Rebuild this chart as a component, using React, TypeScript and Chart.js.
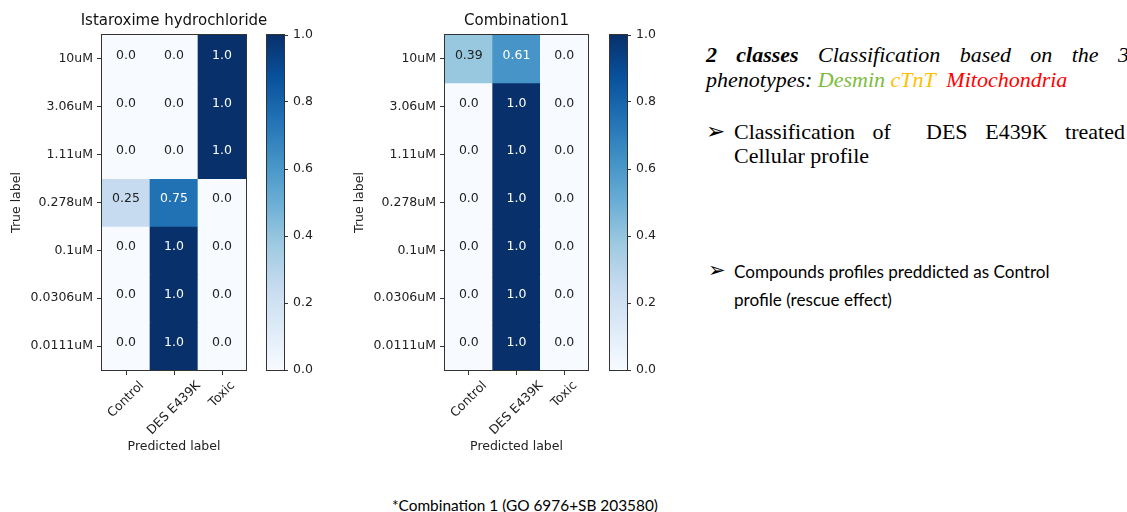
import React, { useEffect, useRef } from 'react';
import { Chart, registerables } from 'chart.js';

Chart.register(...registerables);

// ---------- data ----------
const trueLabels = ['10uM', '3.06uM', '1.11uM', '0.278uM', '0.1uM', '0.0306uM', '0.0111uM'];
const predictedLabels = ['Control', 'DES E439K', 'Toxic'];

const istaroximeTitle = 'Istaroxime hydrochloride';
const istaroximeValues = [
  [0.0, 0.0, 1.0],
  [0.0, 0.0, 1.0],
  [0.0, 0.0, 1.0],
  [0.25, 0.75, 0.0],
  [0.0, 1.0, 0.0],
  [0.0, 1.0, 0.0],
  [0.0, 1.0, 0.0],
];

const combinationTitle = 'Combination1';
const combinationValues = [
  [0.39, 0.61, 0.0],
  [0.0, 1.0, 0.0],
  [0.0, 1.0, 0.0],
  [0.0, 1.0, 0.0],
  [0.0, 1.0, 0.0],
  [0.0, 1.0, 0.0],
  [0.0, 1.0, 0.0],
];

const colorbarTicks = [0.0, 0.2, 0.4, 0.6, 0.8, 1.0];
const colorbarRange = [0, 1];

// ---------- styling ----------
const SANS = "'DejaVu Sans', sans-serif";
const TICK_FONT = { family: SANS, size: 12.5 };
const TEXT_COLOR = '#222';
const SPINE = '#333';

const BLUES = [
  [247, 251, 255],
  [222, 235, 247],
  [198, 219, 239],
  [158, 202, 225],
  [107, 174, 214],
  [66, 146, 198],
  [33, 113, 181],
  [8, 81, 156],
  [8, 48, 107],
];

function bluesColor(v: number): string {
  const t = Math.max(0, Math.min(1, v)) * (BLUES.length - 1);
  const i = Math.min(BLUES.length - 2, Math.floor(t));
  const f = t - i;
  const a = BLUES[i];
  const b = BLUES[i + 1];
  const c = a.map((x, k) => Math.round(x + (b[k] - x) * f));
  return `rgb(${c[0]},${c[1]},${c[2]})`;
}

function fmt(v: number): string {
  return Number.isInteger(v) ? v.toFixed(1) : String(v);
}

const framePlugin = {
  id: 'frame',
  afterDraw(chart: any) {
    const { ctx, chartArea } = chart;
    ctx.save();
    ctx.strokeStyle = SPINE;
    ctx.lineWidth = 1;
    ctx.strokeRect(
      Math.round(chartArea.left) - 0.5,
      Math.round(chartArea.top) - 0.5,
      Math.round(chartArea.right - chartArea.left) + 1,
      Math.round(chartArea.bottom - chartArea.top) + 1
    );
    ctx.restore();
  },
};

type HeatProps = {
  title: string;
  values: number[][];
  left: number;
  plotLeft: number;
  plotRight: number;
};

function Heatmap({ title, values, left, plotLeft, plotRight }: HeatProps) {
  const ref = useRef<HTMLCanvasElement | null>(null);
  const padRight = 30;
  const width = plotRight - left + padRight;
  const height = 470;
  useEffect(() => {
    if (!ref.current) return;
    const titleText = {
      id: 'titleText',
      afterDraw(chart: any) {
        const { ctx, chartArea } = chart;
        ctx.save();
        ctx.font = `15px ${SANS}`;
        ctx.fillStyle = '#111';
        ctx.textAlign = 'center';
        ctx.textBaseline = 'middle';
        ctx.fillText(title, (chartArea.left + chartArea.right) / 2, chartArea.top - 14);
        ctx.restore();
      },
    };
    const cellText = {
      id: 'cellText',
      afterDatasetsDraw(chart: any) {
        const { ctx } = chart;
        ctx.save();
        ctx.font = `${TICK_FONT.size}px ${SANS}`;
        ctx.textAlign = 'center';
        ctx.textBaseline = 'middle';
        chart.data.datasets.forEach((_: any, r: number) => {
          const meta = chart.getDatasetMeta(r);
          meta.data.forEach((el: any, c: number) => {
            const v = values[r][c];
            const p = el.getCenterPoint();
            ctx.fillStyle = v > 0.5 ? '#ffffff' : TEXT_COLOR;
            ctx.fillText(fmt(v), p.x, p.y - 3.5);
          });
        });
        ctx.restore();
      },
    };
    const xLabels = {
      id: 'xLabels',
      afterDraw(chart: any) {
        const { ctx, chartArea } = chart;
        const xs = chart.scales.x;
        ctx.save();
        ctx.font = `${TICK_FONT.size}px ${SANS}`;
        ctx.fillStyle = TEXT_COLOR;
        ctx.textAlign = 'center';
        ctx.textBaseline = 'middle';
        predictedLabels.forEach((lab, i) => {
          const px = xs.getPixelForValue(i);
          const w = ctx.measureText(lab).width;
          const h = TICK_FONT.size * 1.16;
          const half = ((w + h) * Math.SQRT1_2) / 2;
          const cy = chartArea.bottom + 5 + 3.5 + half;
          ctx.save();
          ctx.translate(px, cy);
          ctx.rotate(-Math.PI / 4);
          ctx.fillText(lab, 0, 0);
          ctx.restore();
        });
        ctx.restore();
      },
    };
    const datasets = trueLabels.map((lab, r) => ({
      label: lab,
      data: predictedLabels.map(() => [r, r + 1]),
      backgroundColor: values[r].map((v) => bluesColor(v)),
      borderWidth: 0,
      barPercentage: 1,
      categoryPercentage: 1,
    }));
    const chart = new Chart(ref.current, {
      type: 'bar',
      data: { labels: predictedLabels, datasets: datasets as any },
      plugins: [cellText, xLabels, framePlugin, titleText],
      options: {
        animation: false,
        responsive: false,
        maintainAspectRatio: false,
        devicePixelRatio: 1,
        layout: { padding: { left: 0, top: 35, right: padRight, bottom: 0 } },
        plugins: {
          legend: { display: false },
          tooltip: { enabled: false },
          title: { display: false },
        },
        scales: {
          x: {
            type: 'category',
            position: 'bottom',
            stacked: true,
            offset: true,
            grid: {
              offset: false,
              drawOnChartArea: false,
              drawTicks: true,
              tickLength: 5,
              color: SPINE,
            },
            border: { display: true, color: SPINE },
            ticks: { display: false },
            title: {
              display: true,
              text: 'Predicted label',
              color: TEXT_COLOR,
              font: TICK_FONT,
              padding: { top: 0, bottom: 15.5 },
            },
            afterFit: (s: any) => {
              s.height = 100;
            },
          },
          y: {
            type: 'linear',
            min: 0,
            max: trueLabels.length,
            reverse: true,
            stacked: false,
            afterBuildTicks: (s: any) => {
              s.ticks = trueLabels.map((_, i) => ({ value: i + 0.5 }));
            },
            ticks: {
              autoSkip: false,
              callback: (_v: any, i: number) => trueLabels[i],
              color: TEXT_COLOR,
              font: TICK_FONT,
              padding: 4,
            },
            grid: {
              drawOnChartArea: false,
              drawTicks: true,
              tickLength: 5,
              color: SPINE,
            },
            border: { display: true, color: SPINE },
            title: {
              display: true,
              text: 'True label',
              color: TEXT_COLOR,
              font: TICK_FONT,
              padding: { top: 9.5, bottom: 0 },
            },
            afterFit: (s: any) => {
              s.width = plotLeft - left;
            },
          },
        },
      } as any,
    });
    return () => chart.destroy();
  }, [title, values, left, plotLeft, plotRight]);
  return (
    <canvas
      ref={ref}
      width={width}
      height={height}
      style={{ position: 'absolute', left, top: 0, width, height }}
    />
  );
}

function Colorbar({ left }: { left: number }) {
  const ref = useRef<HTMLCanvasElement | null>(null);
  const width = 61;
  const height = 470;
  useEffect(() => {
    if (!ref.current) return;
    const chart = new Chart(ref.current, {
      type: 'bar',
      data: {
        labels: [''],
        datasets: [
          {
            data: [colorbarRange as any],
            backgroundColor: (context: any) => {
              const { ctx, chartArea } = context.chart;
              if (!chartArea) return bluesColor(0.5);
              const g = ctx.createLinearGradient(0, chartArea.bottom, 0, chartArea.top);
              BLUES.forEach((_, i) => g.addColorStop(i / (BLUES.length - 1), bluesColor(i / (BLUES.length - 1))));
              return g;
            },
            borderWidth: 0,
            barPercentage: 1,
            categoryPercentage: 1,
          },
        ],
      },
      plugins: [framePlugin],
      options: {
        animation: false,
        responsive: false,
        maintainAspectRatio: false,
        devicePixelRatio: 1,
        layout: { padding: { left: 5, top: 35, right: 0, bottom: 100 } },
        plugins: {
          legend: { display: false },
          tooltip: { enabled: false },
          title: { display: false },
        },
        scales: {
          x: { display: false },
          y: {
            position: 'right',
            min: colorbarRange[0],
            max: colorbarRange[1],
            afterBuildTicks: (s: any) => {
              s.ticks = colorbarTicks.map((v) => ({ value: v }));
            },
            ticks: {
              autoSkip: false,
              callback: (v: any) => Number(v).toFixed(1),
              color: TEXT_COLOR,
              font: TICK_FONT,
              padding: 5,
            },
            grid: {
              drawOnChartArea: false,
              drawTicks: true,
              tickLength: 4,
              color: SPINE,
            },
            border: { display: true, color: SPINE },
            afterFit: (s: any) => {
              s.width = 39;
            },
          },
        },
      } as any,
    });
    return () => chart.destroy();
  }, [left]);
  return (
    <canvas
      ref={ref}
      width={width}
      height={height}
      style={{ position: 'absolute', left, top: 0, width, height }}
    />
  );
}

const SERIF = "'Liberation Serif', 'Times New Roman', serif";
const BODY_SANS = "Lato, 'Open Sans', sans-serif";

export default function App() {
  const abs = (extra: React.CSSProperties): React.CSSProperties => ({
    position: 'absolute',
    whiteSpace: 'pre',
    ...extra,
  });
  return (
    <div
      style={{
        position: 'absolute',
        left: 0,
        top: 0,
        width: 1127,
        height: 512,
        background: '#ffffff',
        overflow: 'hidden',
      }}
    >
      <Heatmap title={istaroximeTitle} values={istaroximeValues} left={0} plotLeft={102} plotRight={246} />
      <Colorbar left={262} />
      <Heatmap title={combinationTitle} values={combinationValues} left={343} plotLeft={445} plotRight={588} />
      <Colorbar left={605} />

      {/* right-hand text */}
      <div
        style={abs({
          left: 706,
          top: 42,
          width: 423,
          display: 'flex',
          justifyContent: 'space-between',
          fontFamily: SERIF,
          fontSize: 22,
          lineHeight: '25px',
          fontStyle: 'italic',
          color: '#000',
        })}
      >
        <span style={{ fontWeight: 'bold' }}>2</span>
        <span style={{ fontWeight: 'bold' }}>classes</span>
        <span>Classification</span>
        <span>based</span>
        <span>on</span>
        <span>the</span>
        <span>3</span>
      </div>
      <div
        style={abs({
          left: 706,
          top: 67,
          fontFamily: SERIF,
          fontSize: 22,
          lineHeight: '25px',
          fontStyle: 'italic',
          color: '#000',
        })}
      >
        <span>phenotypes: </span>
        <span style={{ color: '#7cbd3c' }}>Desmin </span>
        <span style={{ color: '#ffc000' }}>cTnT  </span>
        <span style={{ color: '#ff0000' }}>Mitochondria</span>
      </div>

      <div style={abs({ left: 706, top: 118, fontFamily: SANS, fontSize: 23, lineHeight: '27px', color: '#000' })}>
        ➢
      </div>
      <div
        style={abs({
          left: 734,
          top: 119,
          width: 391,
          display: 'flex',
          justifyContent: 'space-between',
          fontFamily: SERIF,
          fontSize: 22,
          lineHeight: '25px',
          color: '#000',
        })}
      >
        <span>Classification</span>
        <span>of</span>
        <span></span>
        <span>DES</span>
        <span>E439K</span>
        <span>treated</span>
      </div>
      <div style={abs({ left: 734, top: 143, fontFamily: SERIF, fontSize: 22, lineHeight: '25px', color: '#000' })}>
        Cellular profile
      </div>

      <div style={abs({ left: 708, top: 257, fontFamily: SANS, fontSize: 21, lineHeight: '27px', color: '#000' })}>
        ➢
      </div>
      <div style={abs({ left: 734, top: 258, fontFamily: BODY_SANS, fontSize: 17.1, lineHeight: '28px', color: '#000' })}>
        Compounds profiles preddicted as Control
      </div>
      <div style={abs({ left: 734, top: 286, fontFamily: BODY_SANS, fontSize: 17.1, lineHeight: '28px', color: '#000' })}>
        profile (rescue effect)
      </div>

      <div
        style={abs({
          left: 325,
          top: 495,
          width: 400,
          textAlign: 'center',
          fontFamily: BODY_SANS,
          fontSize: 15.4,
          lineHeight: '20px',
          color: '#000',
        })}
      >
        *Combination 1 (GO 6976+SB 203580)
      </div>
    </div>
  );
}
